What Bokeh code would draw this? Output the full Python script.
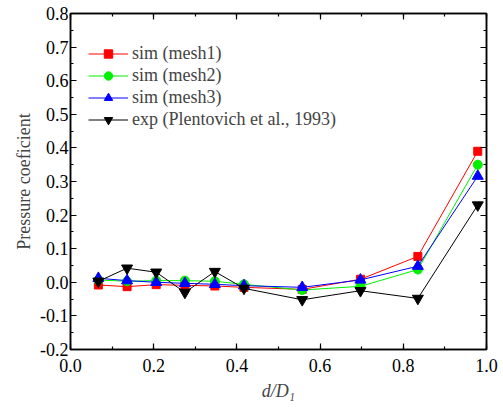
from bokeh.plotting import figure
from bokeh.models import LinearAxis, Legend, LegendItem, Range1d, SingleIntervalTicker, CustomJSTickFormatter
from bokeh.embed import file_html
from bokeh.resources import INLINE

x_vals = [0.067, 0.136, 0.206, 0.275, 0.347, 0.417, 0.557, 0.697, 0.835, 0.979]
mesh1 = [-0.008, -0.013, -0.007, -0.009, -0.011, -0.015, -0.021, 0.009, 0.077, 0.390]
mesh2 = [0.007, 0.003, 0.005, 0.005, 0.003, -0.006, -0.023, -0.012, 0.038, 0.350]
mesh3 = [0.012, 0.005, 0.000, -0.003, -0.006, -0.010, -0.015, 0.007, 0.048, 0.316]
exp_vals = [0.003, 0.042, 0.030, -0.030, 0.032, -0.018, -0.052, -0.025, -0.048, 0.230]

labels = ["sim (mesh1)", "sim (mesh2)", "sim (mesh3)", "exp (Plentovich et al., 1993)"]
colors = ["#ff0000", "#00f000", "#0000ff", "#000000"]
markers = ["square", "circle", "triangle", "inverted_triangle"]
sizes = [8, 9, 11, 11]
series = [mesh1, mesh2, mesh3, exp_vals]

FONT = "Liberation Serif"

p = figure(width=503, height=401, output_backend="svg", toolbar_location=None,
           x_range=Range1d(0, 1), y_range=Range1d(-0.2, 0.8),
           min_border_left=70, min_border_right=17, min_border_top=13, min_border_bottom=52)
p.frame_width = 416
p.frame_height = 336
p.grid.visible = False
p.outline_line_color = "black"
p.outline_line_width = 1.5

def style_axis(ax, ticker_int, show_labels=True):
    ax.ticker = SingleIntervalTicker(interval=ticker_int, num_minor_ticks=2)
    ax.major_tick_in = 6
    ax.major_tick_out = 0
    ax.minor_tick_in = 3
    ax.minor_tick_out = 0
    ax.axis_line_width = 1.5
    ax.major_tick_line_width = 1.2
    ax.minor_tick_line_width = 1.2
    ax.major_label_text_font = FONT
    ax.major_label_text_font_size = "18px"
    ax.major_label_text_color = "black"
    ax.axis_label_text_font = FONT
    ax.axis_label_text_font_size = "18px"
    ax.axis_label_text_font_style = "normal"
    if not show_labels:
        ax.major_label_text_font_size = "0px"
        ax.major_label_text_alpha = 0

style_axis(p.xaxis[0], 0.2)
style_axis(p.yaxis[0], 0.1)
p.xaxis[0].axis_label = "d/D\u2081"
p.xaxis[0].axis_label_text_font_style = "italic"
p.xaxis[0].axis_label_standoff = 6
p.xaxis[0].major_label_standoff = 9
p.yaxis[0].axis_label = "Pressure coeficient"
p.yaxis[0].axis_label_standoff = 3
p.yaxis[0].major_label_standoff = 2
p.yaxis[0].formatter = CustomJSTickFormatter(code="return tick.toFixed(1);")
p.xaxis[0].formatter = CustomJSTickFormatter(code="return tick.toFixed(1);")

top = LinearAxis()
style_axis(top, 0.2, show_labels=False)
p.add_layout(top, "above")
right = LinearAxis()
style_axis(right, 0.1, show_labels=False)
p.add_layout(right, "right")
top.major_label_standoff = 0
right.major_label_standoff = 0

items = []
for lab, col, mk, sz, ys in zip(labels, colors, markers, sizes, series):
    ln = p.line(x_vals, ys, line_color=col, line_width=1.0)
    sc = p.scatter(x_vals, ys, marker=mk, size=sz, fill_color=col, line_color=col)
    items.append(LegendItem(label=lab, renderers=[ln, sc]))

legend = Legend(items=items, location=(18, 219))
legend.border_line_color = None
legend.background_fill_alpha = 0
legend.label_text_font = FONT
legend.label_text_font_size = "18px"
legend.glyph_width = 40
legend.glyph_height = 21
legend.label_height = 21
legend.spacing = 1
legend.padding = 6
legend.margin = 0
legend.label_standoff = 4
p.add_layout(legend, "center")

open("out.html", "w").write(file_html(p, INLINE))
